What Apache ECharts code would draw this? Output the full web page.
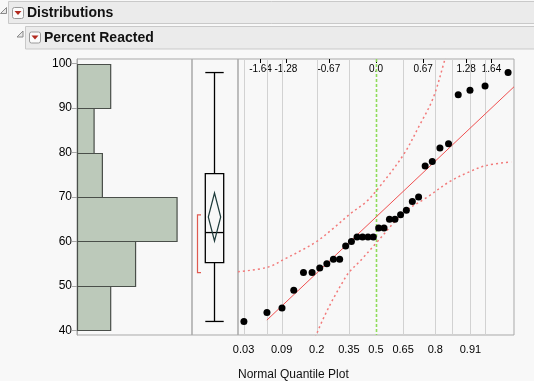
<!DOCTYPE html>
<html>
<head>
<meta charset="utf-8">
<script src="https://cdn.jsdelivr.net/npm/echarts@6/dist/echarts.min.js"></script>
<style>
html,body{margin:0;padding:0;background:#f8f8f8;}
#chart{width:534px;height:381px;}
</style>
</head>
<body>
<div id="chart"></div>
<script>
// ---- Data ----
const binEdges = [40, 50, 60, 70, 80, 90, 100];
const binCounts = [4, 7, 12, 3, 2, 4];
const values = [42, 44, 45, 49, 53, 53, 54, 55, 56, 56, 59, 60, 61, 61, 61, 61,
                63, 63, 65, 65, 66, 67, 69, 70, 77, 78, 81, 82, 93, 94, 95, 98];
const normalScores = [-1.876, -1.549, -1.335, -1.168, -1.030, -0.908, -0.799, -0.698,
                      -0.605, -0.516, -0.431, -0.349, -0.269, -0.191, -0.114, -0.038,
                      0.038, 0.114, 0.191, 0.269, 0.349, 0.431, 0.516, 0.605,
                      0.698, 0.799, 0.908, 1.030, 1.168, 1.335, 1.549, 1.876];
const boxStats = [42, 55.25, 62, 75.25, 98];        // min, Q1, median, Q3, max
const meanDiamond = [60.1, 65.5, 70.9];             // lower CI, mean, upper CI
const shortestHalf = [53, 66];
const refLine = [[-1.55, 42.3], [1.96, 94.8]];
const upperBand = [[-1.96, 53.2], [-1.54, 54.2], [-1.28, 56.2], [-1.06, 58.0], [-0.85, 59.9],
                   [-0.61, 62.9], [-0.36, 66.3], [-0.14, 68.9], [0.05, 72.3], [0.39, 79.5],
                   [0.62, 86.2], [0.81, 92.2], [0.97, 100.5], [1.0, 102.5]];
const lowerBand = [[-1.0, 28.5], [-0.97, 30.5], [-0.85, 38.9], [-0.43, 52.0], [-0.19, 56.2], [0, 59.6],
                   [0.39, 66.4], [0.74, 70.1], [1.05, 73.5], [1.33, 75.7], [1.57, 77.1], [1.92, 77.9]];
const yTicks = [40, 50, 60, 70, 80, 90, 100];
const topTickValues = [-1.64, -1.28, -0.67, 0, 0.67, 1.28, 1.64];
const topTickLabels = ['-1.64', '-1.28', '-0.67', '0.0', '0.67', '1.28', '1.64'];
const probTickPos = [-1.881, -1.341, -0.842, -0.385, 0, 0.385, 0.842, 1.341];
const probTickLabels = ['0.03', '0.09', '0.2', '0.35', '0.5', '0.65', '0.8', '0.91'];
const gridLinePos = [-1.881, -1.555, -1.341, -0.842, -0.385, 0, 0.385, 0.842, 1.080, 1.341, 1.555];

// ---- Chart ----
const Y_MIN = 38.95, Y_MAX = 101.05;
const FONT = '"Liberation Sans", Arial, sans-serif';
function lookup(vals, labels) {
  return function (v) {
    for (let i = 0; i < vals.length; i++) if (Math.abs(vals[i] - v) < 1e-6) return labels[i];
    return '';
  };
}
const chart = echarts.init(document.getElementById('chart'), null, {renderer: 'canvas'});
const frameColor = '#a9a9a9';

const option = {
  animation: false,
  backgroundColor: '#f8f8f8',
  grid: [
    {left: 77, top: 59, width: 115, height: 276, show: true, borderColor: frameColor, borderWidth: 1, backgroundColor: 'transparent'},
    {left: 192, top: 59, width: 46, height: 276, show: true, borderColor: frameColor, borderWidth: 1, backgroundColor: 'transparent'},
    {left: 238, top: 59, width: 276, height: 276, show: true, borderColor: frameColor, borderWidth: 1, backgroundColor: 'transparent'}
  ],
  xAxis: [
    {gridIndex: 0, type: 'value', min: 0, max: 13.86, show: false},
    {gridIndex: 1, type: 'value', min: 0, max: 1, show: false},
    {gridIndex: 2, type: 'value', min: -1.96, max: 1.96, position: 'bottom',
     axisLine: {show: false}, axisTick: {show: false}, splitLine: {show: false},
     axisLabel: {customValues: probTickPos, formatter: lookup(probTickPos, probTickLabels),
                 fontSize: 11, fontFamily: FONT, color: '#000', margin: 9, showMinLabel: true, showMaxLabel: true}},
    {gridIndex: 2, type: 'value', min: -1.96, max: 1.96, position: 'top',
     axisLine: {show: false}, splitLine: {show: false},
     axisTick: {show: true, inside: true, length: 4, customValues: topTickValues, lineStyle: {color: '#000'}},
     axisLabel: {inside: true, customValues: topTickValues, formatter: lookup(topTickValues, topTickLabels),
                 fontSize: 10, fontFamily: FONT, color: '#000', margin: 5}}
  ],
  yAxis: [
    {gridIndex: 0, type: 'value', min: Y_MIN, max: Y_MAX,
     axisLine: {show: true, lineStyle: {color: frameColor}},
     axisTick: {show: true, length: 5, customValues: yTicks, lineStyle: {color: frameColor}},
     axisLabel: {customValues: yTicks, fontSize: 12, fontFamily: FONT, color: '#000', margin: 5},
     splitLine: {show: false}},
    {gridIndex: 1, type: 'value', min: Y_MIN, max: Y_MAX, show: false},
    {gridIndex: 2, type: 'value', min: Y_MIN, max: Y_MAX, show: false}
  ],
  graphic: [
    {type: 'rect', shape: {x: 8.5, y: 1.5, width: 530, height: 22}, style: {fill: '#ebebeb', stroke: '#c9c9c9', lineWidth: 1}},
    {type: 'polygon', shape: {points: [[6.5, 7.5], [6.5, 13.5], [0.5, 13.5]]}, style: {fill: '#e8e8e8', stroke: '#8a8a8a', lineWidth: 1}},
    {type: 'rect', shape: {x: 12.5, y: 7.5, width: 11, height: 11, r: 2}, style: {fill: '#fbfbfb', stroke: '#9a9a9a', lineWidth: 1}},
    {type: 'polygon', shape: {points: [[14.5, 11], [21.5, 11], [18, 15]]}, style: {fill: '#b22a1e'}},
    {type: 'text', x: 27, y: 13, style: {text: 'Distributions', font: 'bold 14px ' + FONT, fill: '#111', verticalAlign: 'middle', textVerticalAlign: 'middle'}},

    {type: 'rect', shape: {x: 25.5, y: 26.5, width: 520, height: 22.5}, style: {fill: '#ebebeb', stroke: '#c9c9c9', lineWidth: 1}},
    {type: 'polygon', shape: {points: [[23, 31], [23, 37], [17, 37]]}, style: {fill: '#e8e8e8', stroke: '#8a8a8a', lineWidth: 1}},
    {type: 'rect', shape: {x: 29.5, y: 32, width: 11, height: 11, r: 2}, style: {fill: '#fbfbfb', stroke: '#9a9a9a', lineWidth: 1}},
    {type: 'polygon', shape: {points: [[31.5, 35.5], [38.5, 35.5], [35, 39.5]]}, style: {fill: '#b22a1e'}},
    {type: 'text', x: 44, y: 38.5, style: {text: 'Percent Reacted', font: 'bold 14px ' + FONT, fill: '#111', verticalAlign: 'middle', textVerticalAlign: 'middle'}},

    {type: 'text', x: 238, y: 375, style: {text: 'Normal Quantile Plot', font: '12px ' + FONT, fill: '#111', verticalAlign: 'middle', textVerticalAlign: 'middle'}}
  ],
  series: [
    { // histogram
      type: 'custom', xAxisIndex: 0, yAxisIndex: 0, clip: true,
      data: binCounts.map((c, i) => [binEdges[i], binEdges[i + 1], c]),
      renderItem: function (params, api) {
        const lo = api.value(0), hi = api.value(1), c = api.value(2);
        const p1 = api.coord([0, hi]);
        const p2 = api.coord([c, lo]);
        return {type: 'rect', shape: {x: p1[0] + 0.5, y: Math.round(p1[1]) + 0.5, width: p2[0] - p1[0], height: Math.round(p2[1]) - Math.round(p1[1])},
                style: {fill: '#bcc9ba', stroke: '#4a4f4a', lineWidth: 1.2}};
      }
    },
    { // outlier box plot
      type: 'custom', xAxisIndex: 1, yAxisIndex: 1, clip: false,
      data: [[...boxStats, ...meanDiamond, ...shortestHalf]],
      renderItem: function (params, api) {
        const cx = 0.485;
        const c = (v) => api.coord([cx, v]);
        const x = Math.round(c(boxStats[0])[0]) + 0.5;
        const yMin = c(api.value(0))[1], yQ1 = c(api.value(1))[1], yMed = c(api.value(2))[1],
              yQ3 = c(api.value(3))[1], yMax = c(api.value(4))[1];
        const yCiLo = c(api.value(5))[1], yMean = c(api.value(6))[1], yCiHi = c(api.value(7))[1];
        const yShLo = c(api.value(8))[1], yShHi = c(api.value(9))[1];
        const hw = 9.2, dw = 6.2, bx = x - 17;
        const black = {stroke: '#000', lineWidth: 1.3, fill: null};
        return {type: 'group', children: [
          {type: 'line', shape: {x1: x, y1: yMax, x2: x, y2: yQ3}, style: black},
          {type: 'line', shape: {x1: x, y1: yQ1, x2: x, y2: yMin}, style: black},
          {type: 'line', shape: {x1: x - hw, y1: yMax, x2: x + hw, y2: yMax}, style: black},
          {type: 'line', shape: {x1: x - hw, y1: yMin, x2: x + hw, y2: yMin}, style: black},
          {type: 'rect', shape: {x: x - hw, y: yQ3, width: 2 * hw, height: yQ1 - yQ3}, style: {stroke: '#000', lineWidth: 1.3, fill: 'none'}},
          {type: 'line', shape: {x1: x - hw, y1: yMed, x2: x + hw, y2: yMed}, style: black},
          {type: 'polygon', shape: {points: [[x, yCiHi], [x + dw, yMean], [x, yCiLo], [x - dw, yMean]]}, style: {stroke: '#1e3b3b', lineWidth: 1.2, fill: 'none'}},
          {type: 'polyline', shape: {points: [[bx + 3.5, yShHi], [bx, yShHi], [bx, yShLo], [bx + 3.5, yShLo]]}, style: {stroke: '#e05a50', lineWidth: 1.2, fill: 'none'}}
        ]};
      }
    },
    { // vertical grid lines of the quantile plot
      type: 'custom', xAxisIndex: 2, yAxisIndex: 2, clip: true, z: 1,
      data: gridLinePos.map(q => [q, Y_MIN]),
      renderItem: function (params, api) {
        const q = api.value(0);
        const x = Math.round(api.coord([q, Y_MIN])[0]) + 0.5;
        const top = api.coord([q, Y_MAX])[1], bot = api.coord([q, Y_MIN])[1];
        const isCenter = Math.abs(q) < 1e-9;
        return {type: 'line', shape: {x1: x, y1: top, x2: x, y2: bot},
                style: isCenter ? {stroke: '#8fdc5a', lineWidth: 1.6, lineDash: [3, 2]} : {stroke: '#d2d2d2', lineWidth: 1}};
      }
    },
    { // upper confidence band
      type: 'line', xAxisIndex: 2, yAxisIndex: 2, data: upperBand, smooth: 0.35, showSymbol: false, clip: true, z: 2,
      lineStyle: {color: '#f27a7a', width: 1.5, type: [2, 3]}
    },
    { // lower confidence band
      type: 'line', xAxisIndex: 2, yAxisIndex: 2, data: lowerBand, smooth: 0.35, showSymbol: false, clip: true, z: 2,
      lineStyle: {color: '#f27a7a', width: 1.5, type: [2, 3]}
    },
    { // reference line
      type: 'line', xAxisIndex: 2, yAxisIndex: 2, data: refLine, showSymbol: false, clip: true, z: 3,
      lineStyle: {color: '#f05050', width: 1}
    },
    { // quantile points
      type: 'scatter', xAxisIndex: 2, yAxisIndex: 2, z: 4,
      data: values.map((v, i) => [normalScores[i], v]),
      symbol: 'circle', symbolSize: 7, itemStyle: {color: '#000', opacity: 1}
    }
  ]
};
chart.setOption(option);
</script>
</body>
</html>
